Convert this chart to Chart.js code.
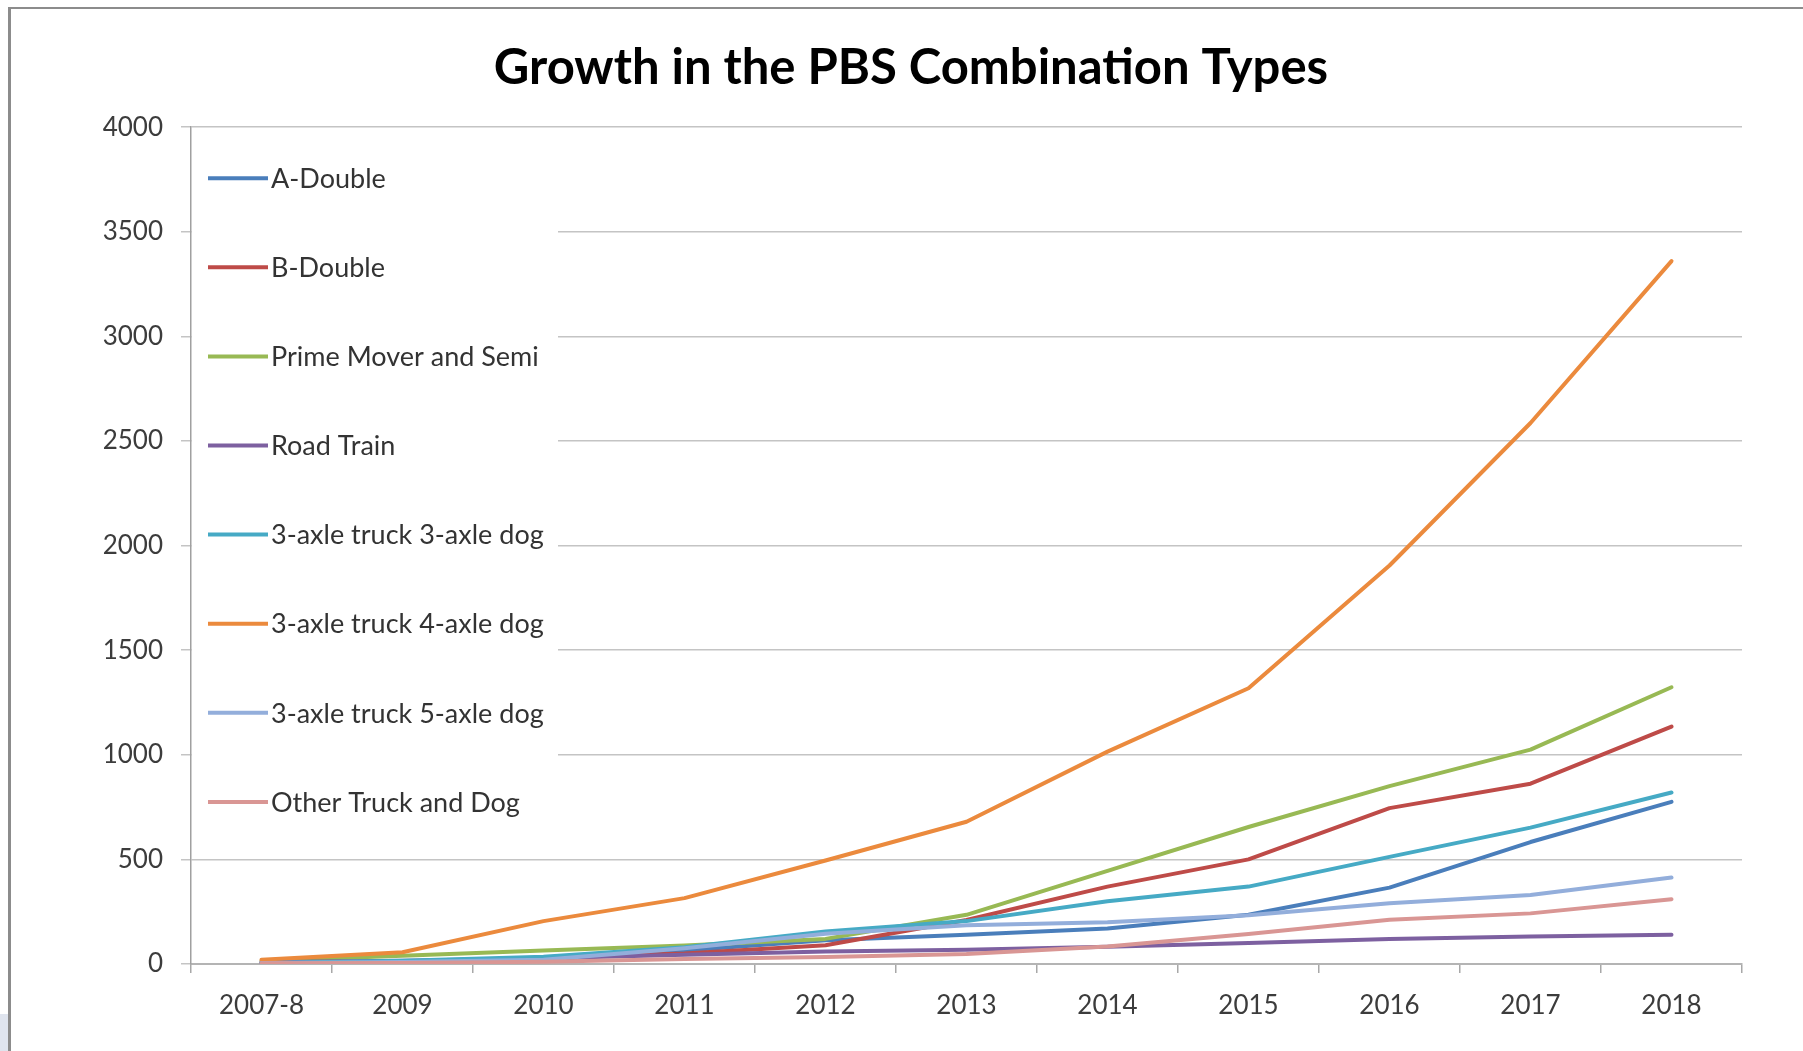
<!DOCTYPE html>
<html>
<head>
<meta charset="utf-8">
<title>Growth in the PBS Combination Types</title>
<script src="https://cdn.jsdelivr.net/npm/chart.js@4/dist/chart.umd.min.js"></script>
<style>
  html, body { margin: 0; padding: 0; background: #ffffff; }
  #wrap { position: relative; width: 1803px; height: 1051px; overflow: hidden; }
  #c { position: absolute; left: 0; top: 0; }
  #frame {
    position: absolute; left: 8px; top: 7px; width: 1830px; height: 1090px;
    border-top: 2px solid #8c8c8c; border-left: 3px solid #8c8c8c; pointer-events: none;
  }
  #corner { position: absolute; left: 0; top: 1014px; width: 8px; height: 37px; background: #dfe4ee; }
</style>
</head>
<body>
<div id="wrap">
  <canvas id="c" width="1803" height="1051"></canvas>
  <div id="frame"></div>
  <div id="corner"></div>
</div>
<script>
// Reporting years
const categories = ['2007-8', '2009', '2010', '2011', '2012', '2013', '2014', '2015', '2016', '2017', '2018'];

// Number of PBS combinations per type
const aDouble       = [5, 10, 20, 65, 113, 140, 170, 235, 365, 583, 775];
const bDouble       = [5, 12, 30, 50, 90, 210, 370, 500, 745, 862, 1135];
const primeMover    = [15, 40, 65, 88, 120, 235, 445, 655, 850, 1025, 1323];
const roadTrain     = [10, 15, 27, 44, 60, 68, 82, 100, 120, 132, 140];
const truck3Dog3    = [5, 15, 35, 80, 155, 205, 300, 370, 512, 652, 820];
const truck3Dog4    = [20, 56, 205, 315, 495, 680, 1015, 1318, 1905, 2586, 3360];
const truck3Dog5    = [5, 10, 20, 75, 145, 185, 200, 233, 290, 330, 413];
const otherTruckDog = [3, 5, 11, 24, 33, 48, 84, 143, 212, 242, 310];

const seriesNames = ['A-Double', 'B-Double', 'Prime Mover and Semi', 'Road Train',
  '3-axle truck 3-axle dog', '3-axle truck 4-axle dog', '3-axle truck 5-axle dog', 'Other Truck and Dog'];
const seriesValues = [aDouble, bDouble, primeMover, roadTrain, truck3Dog3, truck3Dog4, truck3Dog5, otherTruckDog];
const seriesColors = ['#4A7EBB', '#BE4B48', '#98B954', '#7D60A0', '#46AAC5', '#EB8A3D', '#93AEDB', '#D99694'];

// Y axis range
const yMin = 0, yMax = 4000, yStep = 500;

const datasets = seriesNames.map((name, i) => ({
  label: name,
  data: seriesValues[i],
  borderColor: seriesColors[i],
  backgroundColor: seriesColors[i],
  borderWidth: 4,
  pointRadius: 0,
  pointHoverRadius: 0,
  tension: 0,
  fill: false,
  borderJoinStyle: 'round',
  borderCapStyle: 'round',
  order: seriesNames.length - i
}));

// Legend drawn inside the plot area on a white panel, one entry per row
const insideLegend = {
  id: 'insideLegend',
  beforeDatasetsDraw(chart) {
    const { ctx, chartArea } = chart;
    ctx.save();
    ctx.fillStyle = '#ffffff';
    ctx.fillRect(chartArea.left + 1, chartArea.top + 8, 366, 700);
    ctx.font = '27px Lato';
    ctx.textBaseline = 'middle';
    ctx.textAlign = 'left';
    chart.data.datasets.forEach((ds, i) => {
      const y = chartArea.top + 51 + i * 89.1;
      const x0 = chartArea.left + 17;
      ctx.strokeStyle = ds.borderColor;
      ctx.lineWidth = 4;
      ctx.lineCap = 'butt';
      ctx.beginPath();
      ctx.moveTo(x0, y);
      ctx.lineTo(x0 + 60, y);
      ctx.stroke();
      ctx.fillStyle = '#333333';
      ctx.fillText(ds.label, x0 + 63, y + 1);
    });
    ctx.restore();
  }
};

new Chart(document.getElementById('c'), {
  type: 'line',
  data: { labels: categories, datasets },
  plugins: [insideLegend],
  options: {
    responsive: false,
    animation: false,
    devicePixelRatio: 1,
    layout: { padding: { left: 80, right: 61, top: 0, bottom: 0 } },
    plugins: {
      legend: { display: false },
      tooltip: { enabled: false },
      title: {
        display: true,
        text: 'Growth in the PBS Combination Types',
        color: '#000000',
        font: { family: 'Lato', size: 49, weight: 'bold' },
        padding: { top: 39, bottom: 29.4 }
      }
    },
    scales: {
      x: {
        offset: true,
        afterFit(scale) { scale.height = 87; },
        grid: {
          offset: true,
          drawOnChartArea: false,
          drawTicks: true,
          tickLength: 9,
          color: '#a8a8a8',
          lineWidth: 1.5
        },
        border: { display: true, color: '#b4b4b4', width: 2 },
        ticks: {
          color: '#3c3c3c',
          font: { family: 'Lato', size: 26 },
          padding: 17.5,
          maxRotation: 0,
          autoSkip: false
        }
      },
      y: {
        min: yMin,
        max: yMax,
        afterFit(scale) { scale.width = 111; },
        grid: {
          color: '#c4c4c4',
          lineWidth: 1.5,
          drawTicks: true,
          tickLength: 10
        },
        border: { display: true, color: '#a0a0a0', width: 1.5 },
        ticks: {
          stepSize: yStep,
          color: '#3c3c3c',
          font: { family: 'Lato', size: 26 },
          padding: 18,
          callback: v => String(v)
        }
      }
    }
  }
});
</script>
</body>
</html>
